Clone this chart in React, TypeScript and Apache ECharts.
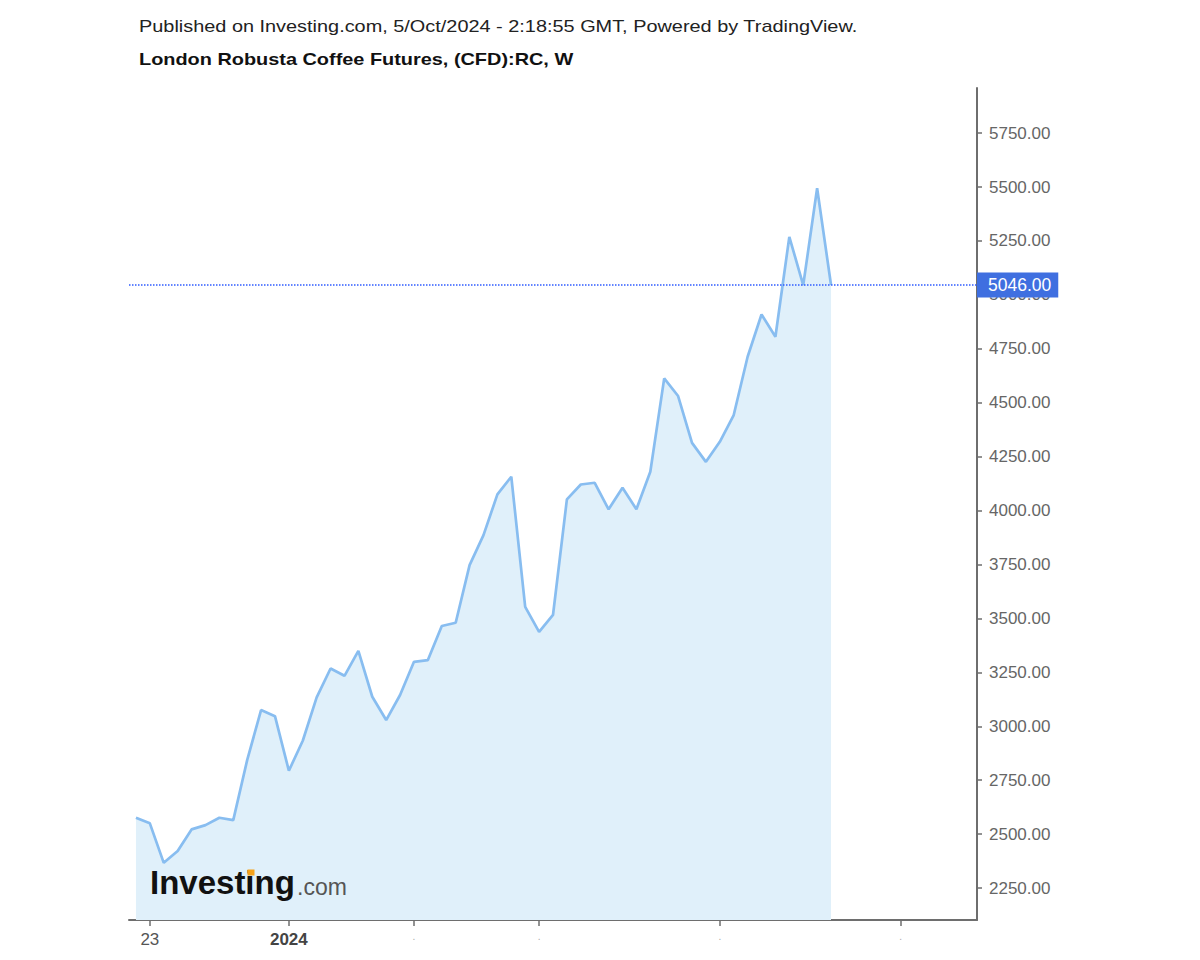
import React, { useEffect, useRef } from "react";
import * as echarts from "echarts";

// Weekly closes (Oct 2023 – Sep 2024)
const prices: number[] = [
  2576, 2550, 2367, 2422, 2522, 2542, 2576, 2565, 2843, 3075,
  3047, 2794, 2933, 3134, 3268, 3234, 3350, 3137, 3029, 3145,
  3299, 3307, 3465, 3480, 3747, 3886, 4075, 4157, 3554, 3438,
  3516, 4052, 4121, 4129, 4006, 4106, 4006, 4180, 4613, 4531,
  4314, 4226, 4319, 4443, 4713, 4909, 4806, 5269, 5045, 5494,
  5046,
];
const emptyWeeks = 10; // empty space to the right of the last point
const lastPrice = 5046;

const xTickIndex: number[] = [1, 11, 20, 29, 42, 55];
const xTickLabels: string[] = ["23", "2024", ".", ".", ".", "."];
const yTickValues: number[] = [2250, 2500, 2750, 3000, 3250, 3500, 3750, 4000, 4250, 4500, 4750, 5000, 5250, 5500, 5750];
const yMin = 2102;
const yMax = 5959;

const titleLine1 = "Published on Investing.com, 5/Oct/2024 - 2:18:55 GMT, Powered by TradingView.";
const titleLine2 = "London Robusta Coffee Futures, (CFD):RC, W";

const FONT = "'Liberation Sans', Arial, sans-serif";

export default function App() {
  const ref = useRef<HTMLDivElement>(null);
  useEffect(() => {
    if (!ref.current) return;
    const chart = echarts.init(ref.current, undefined, { renderer: "svg" });
    const categories: string[] = [];
    const total = prices.length + emptyWeeks;
    for (let i = 0; i < total; i++) categories.push(String(i));
    const labelFor = (i: number) => {
      const k = xTickIndex.indexOf(i);
      return k >= 0 ? xTickLabels[k] : "";
    };
    chart.setOption({
      animation: false,
      backgroundColor: "#ffffff",
      textStyle: { fontFamily: FONT },
      grid: { left: 129, right: 223, top: 88, bottom: 40 },
      xAxis: {
        type: "category",
        data: categories,
        boundaryGap: true,
        axisLine: { show: true, lineStyle: { color: "#6e6e6e", width: 2 } },
        axisTick: {
          show: true,
          alignWithLabel: true,
          length: 6,
          interval: (i: number) => xTickIndex.indexOf(i) >= 0,
          lineStyle: { color: "#6e6e6e", width: 1.5 },
        },
        axisLabel: {
          interval: (i: number) => xTickIndex.indexOf(i) >= 0,
          formatter: (v: string) => {
            const s = labelFor(Number(v));
            if (s === "2024") return "{b|" + s + "}";
            if (s === ".") return "{d|.}";
            return s;
          },
          color: "#555555",
          fontSize: 17,
          fontFamily: FONT,
          margin: 11,
          rich: {
            b: { fontWeight: "bold", color: "#444444", fontSize: 17, fontFamily: FONT },
            d: { color: "#aaaaaa", fontSize: 10, fontFamily: FONT },
          },
        },
        splitLine: { show: false },
      },
      yAxis: {
        type: "value",
        position: "right",
        min: yMin,
        max: yMax,
        scale: true,
        axisLine: { show: true, lineStyle: { color: "#6e6e6e", width: 2 } },
        axisTick: {
          show: true,
          length: 5,
          customValues: yTickValues,
          lineStyle: { color: "#6e6e6e", width: 1.5 },
        },
        axisLabel: {
          customValues: yTickValues,
          formatter: (v: number) => v.toFixed(2),
          color: "#666666",
          fontSize: 17,
          fontFamily: FONT,
          margin: 12,
        },
        splitLine: { show: false },
      },
      series: [
        {
          type: "line",
          data: prices,
          symbol: "none",
          lineStyle: { color: "#88bdf0", width: 2.7 },
          areaStyle: { color: "#e0f0fa", opacity: 1, origin: "start" },
          markLine: {
            silent: true,
            symbol: "none",
            data: [{ yAxis: lastPrice }],
            lineStyle: { type: "dotted", color: "#2f5cff", width: 1.5, opacity: 1 },
            emphasis: { disabled: true },
            label: {
              show: true,
              position: "end",
              distance: 0,
              formatter: lastPrice.toFixed(2),
              backgroundColor: "#3f6fe0",
              color: "#ffffff",
              fontSize: 17.5,
              fontFamily: FONT,
              padding: [4, 7, 3, 11],
            },
          },
        },
      ],
      graphic: [
        {
          type: "text",
          x: 139,
          y: 18,
          scaleX: 1.17,
          style: { text: titleLine1, fontSize: 17, fontFamily: FONT, fill: "#222222" },
        },
        {
          type: "text",
          x: 139,
          y: 51,
          scaleX: 1.17,
          style: { text: titleLine2, fontSize: 17, fontWeight: "bold", fontFamily: FONT, fill: "#111111" },
        },
        {
          type: "text",
          x: 150,
          y: 866,
          z: 10,
          style: { text: "Investing", fontSize: 33, fontWeight: "bold", fontFamily: FONT, fill: "#111111" },
        },
        {
          type: "rect",
          z: 11,
          shape: { x: 247.5, y: 869.5, width: 7, height: 6 },
          style: { fill: "#f5a21b" },
        },
        {
          type: "text",
          x: 297,
          y: 875,
          z: 10,
          style: { text: ".com", fontSize: 23, fontFamily: FONT, fill: "#555555" },
        },
      ],
    });
    return () => chart.dispose();
  }, []);
  return <div ref={ref} style={{ width: 1200, height: 960, margin: -8 }} />;
}
